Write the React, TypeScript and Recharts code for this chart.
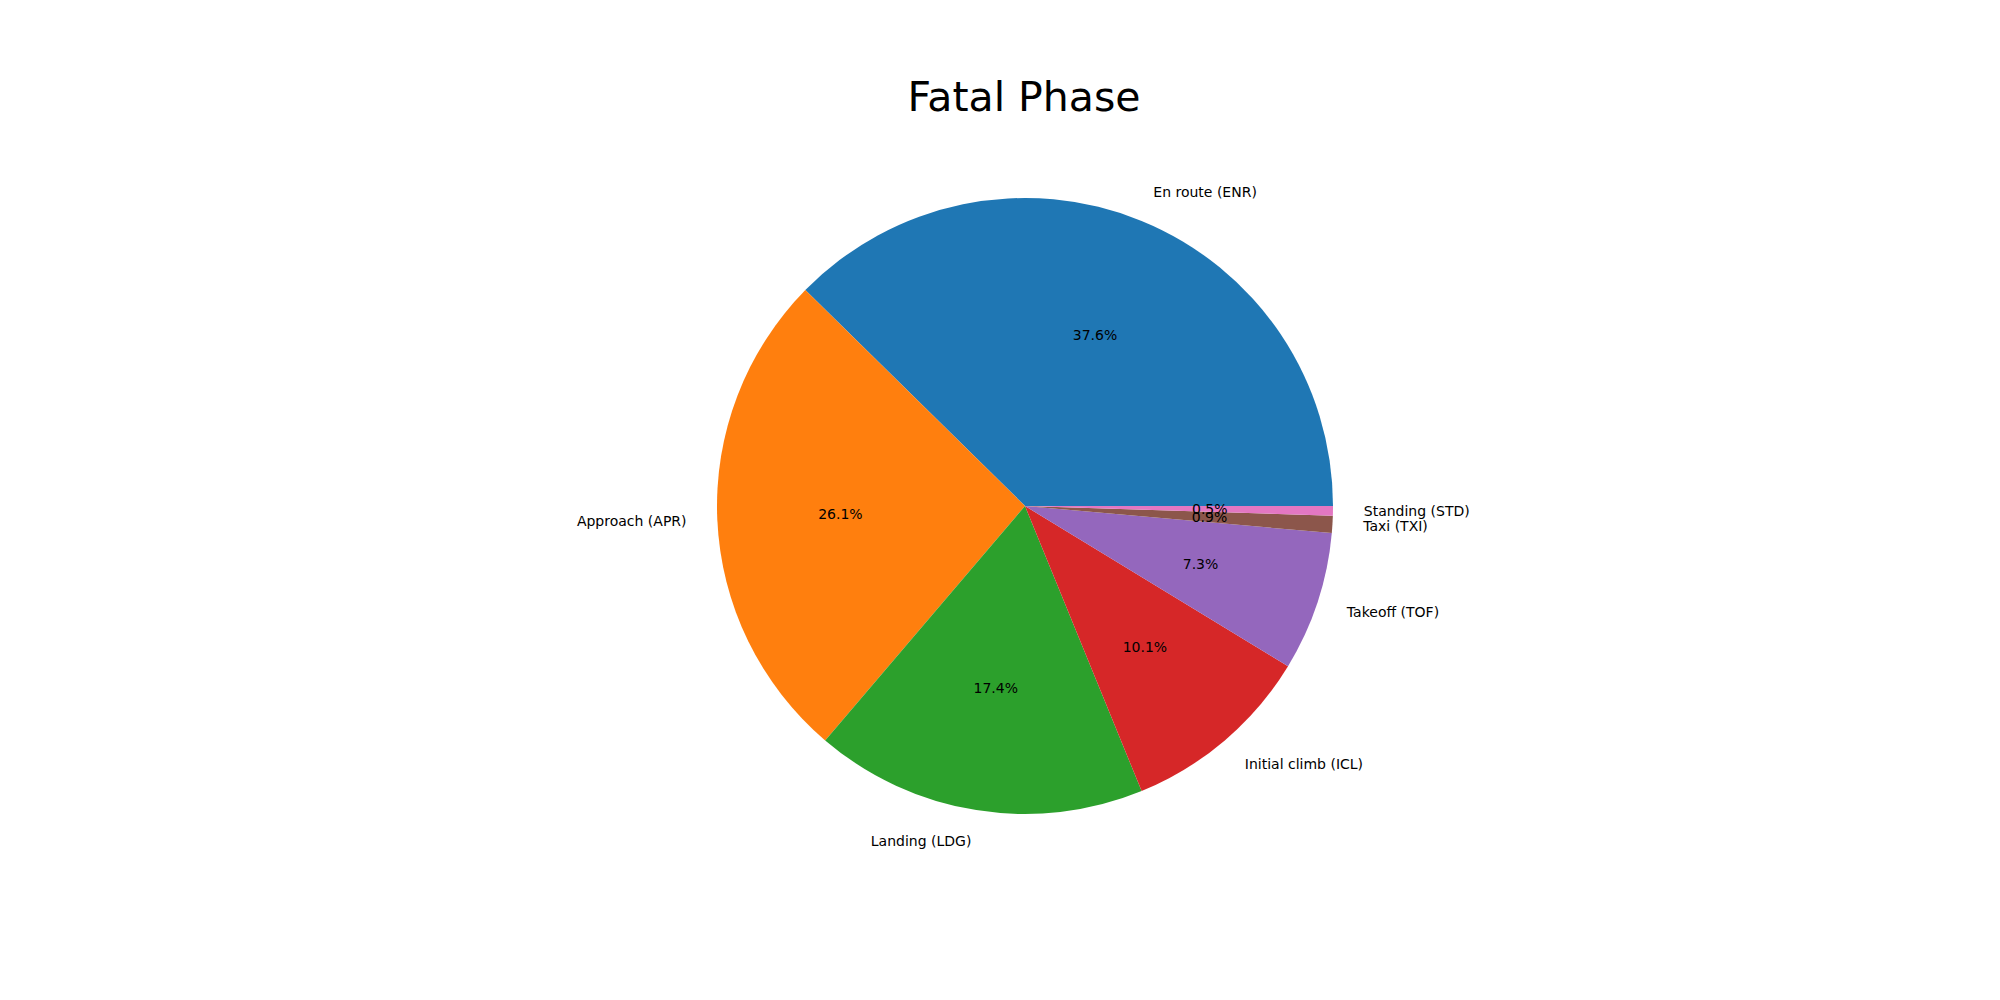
import { PieChart, Pie, Cell } from "recharts";

const phases = [
  "En route (ENR)",
  "Approach (APR)",
  "Landing (LDG)",
  "Initial climb (ICL)",
  "Takeoff (TOF)",
  "Taxi (TXI)",
  "Standing (STD)",
];
const shares = [37.6, 26.1, 17.4, 10.1, 7.3, 0.9, 0.5];
const colors = ["#1f77b4", "#ff7f0e", "#2ca02c", "#d62728", "#9467bd", "#8c564b", "#e377c2"];

const data = phases.map((name, i) => ({ name, value: shares[i] }));

const RAD = Math.PI / 180;
const FONT = "DejaVu Sans, sans-serif";

function renderLabel(props: any) {
  const { cx, cy, midAngle, outerRadius, name, value } = props;
  const c = Math.cos(-midAngle * RAD);
  const s = Math.sin(-midAngle * RAD);
  const lx = cx + outerRadius * 1.1 * c;
  const ly = cy + outerRadius * 1.1 * s;
  const px = cx + outerRadius * 0.6 * c;
  const py = cy + outerRadius * 0.6 * s;
  return (
    <g>
      <text x={lx} y={ly} fill="#000" fontSize={14} fontFamily={FONT}
        textAnchor={c >= 0 ? "start" : "end"} dominantBaseline="central">
        {name}
      </text>
      <text x={px} y={py} fill="#000" fontSize={14} fontFamily={FONT}
        textAnchor="middle" dominantBaseline="central">
        {`${value.toFixed(1)}%`}
      </text>
    </g>
  );
}

export default function App() {
  return (
    <div style={{ position: "fixed", left: 0, top: 0, width: 2000, height: 1000, background: "#fff" }}>
      <div style={{ position: "absolute", top: 70, left: 1024, transform: "translateX(-50%)",
        whiteSpace: "nowrap", fontFamily: FONT, fontSize: 41, lineHeight: "54px" }}>
        Fatal Phase
      </div>
      <PieChart width={2000} height={1000}>
        <Pie
          data={data}
          dataKey="value"
          nameKey="name"
          cx={1020}
          cy={501}
          outerRadius={308}
          startAngle={0}
          endAngle={360}
          stroke="none"
          labelLine={false}
          label={renderLabel}
          isAnimationActive={false}
        >
          {data.map((d, i) => (
            <Cell key={d.name} fill={colors[i]} />
          ))}
        </Pie>
      </PieChart>
    </div>
  );
}
